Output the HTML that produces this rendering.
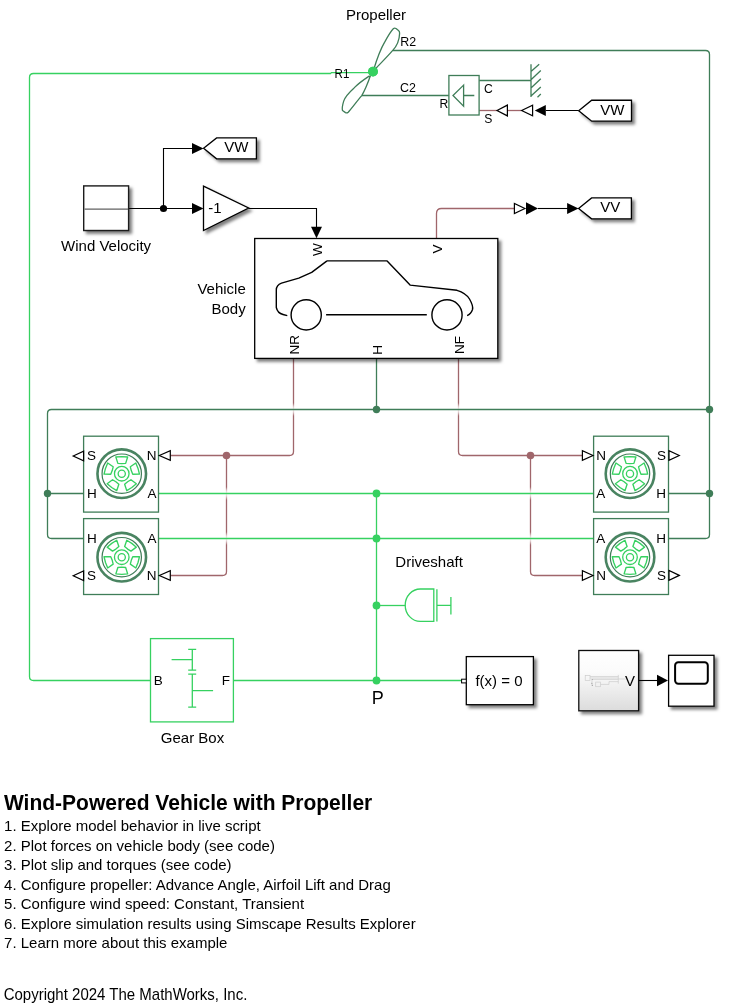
<!DOCTYPE html>
<html><head><meta charset="utf-8"><style>
html,body{margin:0;padding:0;background:#fff;width:730px;height:1006px;overflow:hidden;position:relative}
</style></head><body>
<svg width="730" height="1006" viewBox="0 0 730 1006"  style="position:absolute;left:0;top:0;will-change:transform;font-family:&quot;Liberation Sans&quot;,sans-serif">
<defs><filter id="sh" x="-20%" y="-20%" width="150%" height="150%"><feDropShadow dx="2.8" dy="2.8" stdDeviation="1.6" flood-color="#000" flood-opacity="0.5"/></filter></defs>
<path d="M293.5,358.4 L293.50,451.50 Q293.5,455.5 289.50,455.50 L168.5,455.5" fill="none" stroke="#a0666b" stroke-width="1.3"/>
<path d="M226.5,455.5 L226.50,571.50 Q226.5,575.5 222.50,575.50 L168.5,575.5" fill="none" stroke="#a0666b" stroke-width="1.3"/>
<path d="M458.5,358.4 L458.50,451.50 Q458.5,455.5 462.50,455.50 L582.3,455.5" fill="none" stroke="#a0666b" stroke-width="1.3"/>
<path d="M530.5,455.5 L530.50,571.50 Q530.5,575.5 534.50,575.50 L582.3,575.5" fill="none" stroke="#a0666b" stroke-width="1.3"/>
<path d="M436.5,238.5 L436.50,213.50 Q436.5,208.5 441.50,208.50 L514.4,208.5" fill="none" stroke="#a0666b" stroke-width="1.3"/>
<path d="M479.1,110.5 L497,110.5" fill="none" stroke="#a0666b" stroke-width="1.3" />
<path d="M507.4,110.5 L521.6,110.5" fill="none" stroke="#a0666b" stroke-width="1.3" />
<defs><linearGradient id="fd" x1="0" y1="0" x2="0" y2="1"><stop offset="0" stop-color="#fff" stop-opacity="0"/><stop offset="0.3" stop-color="#fff" stop-opacity="0.7"/><stop offset="0.5" stop-color="#fff" stop-opacity="0.9"/><stop offset="0.7" stop-color="#fff" stop-opacity="0.7"/><stop offset="1" stop-color="#fff" stop-opacity="0"/></linearGradient></defs>
<rect x="224.7" y="487.0" width="3.6" height="13" fill="url(#fd)"/>
<rect x="224.7" y="532.0" width="3.6" height="13" fill="url(#fd)"/>
<rect x="528.7" y="487.0" width="3.6" height="13" fill="url(#fd)"/>
<rect x="528.7" y="532.0" width="3.6" height="13" fill="url(#fd)"/>
<rect x="291.7" y="403.0" width="3.6" height="13" fill="url(#fd)"/>
<rect x="456.7" y="403.0" width="3.6" height="13" fill="url(#fd)"/>
<path d="M373,72.6 L331.5,72.6 L330.5,73.5 L33.5,73.5 Q29.5,73.5 29.5,77.5 L29.5,676.5 Q29.5,680.5 33.5,680.5 L150.5,680.5" fill="none" stroke="#36d160" stroke-width="1.3"/>
<path d="M233.4,680.5 L461.4,680.5" fill="none" stroke="#36d160" stroke-width="1.3" />
<path d="M376.5,493.5 L376.5,680.5" fill="none" stroke="#36d160" stroke-width="1.3" />
<path d="M158.5,493.5 L593.6,493.5" fill="none" stroke="#36d160" stroke-width="1.3" />
<path d="M158.5,538.5 L593.6,538.5" fill="none" stroke="#36d160" stroke-width="1.3" />
<path d="M376.5,605.5 L405.5,605.5" fill="none" stroke="#36d160" stroke-width="1.3" />
<path d="M393,50.5 L705.50,50.50 Q709.5,50.5 709.50,54.50 L709.50,534.50 Q709.5,538.5 705.50,538.50 L668.5,538.5" fill="none" stroke="#3f7d58" stroke-width="1.3"/>
<path d="M709.5,493.5 L668.5,493.5" fill="none" stroke="#3f7d58" stroke-width="1.3" />
<path d="M709.5,409.5 L51.50,409.50 Q47.5,409.5 47.50,413.50 L47.50,534.50 Q47.5,538.5 51.50,538.50 L83.6,538.5" fill="none" stroke="#3f7d58" stroke-width="1.3"/>
<path d="M47.5,493.5 L83.6,493.5" fill="none" stroke="#3f7d58" stroke-width="1.3" />
<path d="M376.5,358.4 L376.5,409.5" fill="none" stroke="#3f7d58" stroke-width="1.3" />
<path d="M361.8,95.5 L448.9,95.5" fill="none" stroke="#3f7d58" stroke-width="1.3" />
<path d="M479.1,80.5 L531,80.5" fill="none" stroke="#3f7d58" stroke-width="1.3" />
<path d="M128.6,208.5 L192,208.5" fill="none" stroke="#000" stroke-width="1.1" />
<path d="M163.5,208.5 L163.5,148.5 L193,148.5" fill="none" stroke="#000" stroke-width="1.1" />
<path d="M248.6,208.5 L316.5,208.5 L316.5,228" fill="none" stroke="#000" stroke-width="1.1" />
<path d="M545.8,110.5 L578.5,110.5" fill="none" stroke="#000" stroke-width="1.1" />
<path d="M538,208.5 L568,208.5" fill="none" stroke="#000" stroke-width="1.1" />
<path d="M638.6,680.5 L657.5,680.5" fill="none" stroke="#000" stroke-width="1.1" />
<polygon points="203.5,208.5 192.0,203.0 192.0,214.0" fill="#000"/>
<polygon points="203.5,148.5 192.0,143.0 192.0,154.0" fill="#000"/>
<polygon points="316.5,238.3 311.0,226.8 322.0,226.8" fill="#000"/>
<polygon points="534.8,110.5 545.8,105.0 545.8,116.0" fill="#000"/>
<polygon points="538,208.5 526,202.25 526,214.75" fill="#000"/>
<polygon points="578.6,208.5 567.1,203.0 567.1,214.0" fill="#000"/>
<polygon points="668,680.5 657,674.75 657,686.25" fill="#000"/>
<polygon points="497,110.5 507.4,105.1 507.4,115.9" fill="#fff" stroke="#000" stroke-width="1.2"/>
<polygon points="521.6,110.5 532.6,105.1 532.6,115.9" fill="#fff" stroke="#000" stroke-width="1.2"/>
<polygon points="524.9,208.5 514.4,203.4 514.4,213.6" fill="#fff" stroke="#000" stroke-width="1.2"/>
<circle cx="376.5" cy="493.5" r="3.9" fill="#36d160"/>
<circle cx="376.5" cy="538.5" r="3.9" fill="#36d160"/>
<circle cx="376.5" cy="605.5" r="3.9" fill="#36d160"/>
<circle cx="376.5" cy="680.5" r="3.9" fill="#36d160"/>
<circle cx="373" cy="71.6" r="4.9" fill="#36d160"/>
<circle cx="376.5" cy="409.5" r="3.7" fill="#3f7d58"/>
<circle cx="709.5" cy="409.5" r="3.7" fill="#3f7d58"/>
<circle cx="709.5" cy="493.5" r="3.7" fill="#3f7d58"/>
<circle cx="47.5" cy="493.5" r="3.7" fill="#3f7d58"/>
<circle cx="226.5" cy="455.5" r="3.8" fill="#a0666b"/>
<circle cx="530.5" cy="455.5" r="3.8" fill="#a0666b"/>
<circle cx="163.5" cy="208.5" r="3.6" fill="#000"/>
<rect x="83.7" y="185.9" width="44.9" height="44.6" fill="#fff" stroke="#1a1a1a" stroke-width="1.4" filter="url(#sh)"/>
<line x1="84.6" y1="209.1" x2="128.3" y2="209.1" stroke="#3a3a3a" stroke-width="1.0"/>
<text x="0" y="0" font-size="15" text-anchor="middle" fill="#000" transform="translate(106.1,250.9) scale(1,1.0)" >Wind Velocity</text>
<polygon points="203.5,186.1 248.6,208.0 203.5,230.5" fill="#fff" stroke="#000" stroke-width="1.3" stroke-linejoin="miter" filter="url(#sh)"/>
<text x="0" y="0" font-size="15" text-anchor="start" fill="#000" transform="translate(208.3,212.8) scale(1,1.0)" >-1</text>
<polygon points="203.6,148.35 216.6,137.9 256.4,137.9 256.4,158.79999999999998 216.6,158.79999999999998" fill="#fff" stroke="#000" stroke-width="1.3" filter="url(#sh)"/>
<text x="0" y="0" font-size="15" text-anchor="start" fill="#000" transform="translate(224.2,152.25) scale(1,1.0)" >VW</text>
<polygon points="578.7,110.7 591.7,100.25 631.5,100.25 631.5,121.15 591.7,121.15" fill="#fff" stroke="#000" stroke-width="1.3" filter="url(#sh)"/>
<text x="0" y="0" font-size="15" text-anchor="start" fill="#000" transform="translate(600.2,115.2) scale(1,1.0)" >VW</text>
<polygon points="578.6,208.4 591.6,197.95000000000002 631.4,197.95000000000002 631.4,218.85 591.6,218.85" fill="#fff" stroke="#000" stroke-width="1.3" filter="url(#sh)"/>
<text x="0" y="0" font-size="15" text-anchor="start" fill="#000" transform="translate(600.2,212.3) scale(1,1.0)" >VV</text>
<rect x="254.7" y="238.5" width="243.1" height="119.9" fill="#fff" stroke="#000" stroke-width="1.3" filter="url(#sh)"/>
<text x="0" y="0" font-size="15" text-anchor="end" fill="#000" transform="translate(245.8,293.5) scale(1,1.0)" >Vehicle</text>
<text x="0" y="0" font-size="15" text-anchor="end" fill="#000" transform="translate(245.7,313.6) scale(1,1.0)" >Body</text>
<text x="0" y="0" font-size="13.5" text-anchor="middle" transform="translate(321.9,249.5) rotate(-90)">W</text>
<text x="0" y="0" font-size="13.5" text-anchor="middle" transform="translate(441.6,249.0) rotate(-90)">V</text>
<text x="0" y="0" font-size="13.5" text-anchor="middle" transform="translate(298.8,344.8) rotate(-90)">NR</text>
<text x="0" y="0" font-size="13.5" text-anchor="middle" transform="translate(381.6,349.8) rotate(-90)">H</text>
<text x="0" y="0" font-size="13.5" text-anchor="middle" transform="translate(463.7,345.0) rotate(-90)">NF</text>
<path d="M327,260.9 L387.1,260.9 L410.1,285.1 L457,290.3 Q466,293 469.5,299 Q473.5,306 472.5,309.5 Q471,314 467.1,315.6 M327,260.9 L311.7,272.4 L298.8,278.2 L281.5,283.1 Q276.3,285 276.3,290 L276.3,307.5 Q277.5,313 283,314.5 L287.3,315.6 M326.1,314.7 L426.8,314.7" fill="none" stroke="#000" stroke-width="1.4" stroke-linejoin="round"/>
<circle cx="306.2" cy="314.9" r="15.1" fill="none" stroke="#000" stroke-width="1.4"/>
<circle cx="447.0" cy="314.9" r="15.1" fill="none" stroke="#000" stroke-width="1.4"/>
<text x="0" y="0" font-size="15" text-anchor="middle" fill="#000" transform="translate(376.0,19.9) scale(1,1.0)" >Propeller</text>
<path d="M373.8,69.3 C376,62 380,50 384.8,41.9 C388,36 391,31 393.5,28.5 Q394.5,27.8 396,28.5 L398.5,30.4 Q399.8,31.5 399.6,33.5 C399.4,40 397,46 392.5,50.7 C388,56 382,62 376,68.2" fill="none" stroke="#3f7d58" stroke-width="1.3" stroke-linejoin="round"/>
<path d="M369.5,75.9 C364,79.5 358,84 354.1,87.9 C349,92.5 345,97 343.7,101.1 C342.5,105 341.8,108 342.5,110.5 L345.5,112.6 Q347,113.3 348.2,112.2 C352,108 357,101 361.8,95.6 C365,90 367.5,84 370.5,75.5" fill="none" stroke="#3f7d58" stroke-width="1.3" stroke-linejoin="round"/>
<circle cx="373" cy="71.6" r="4.9" fill="#36d160"/>
<text x="0" y="0" font-size="13.5" text-anchor="start" fill="#000" transform="translate(334.5,77.6) scale(0.86,1.0)" >R1</text>
<text x="0" y="0" font-size="13.5" text-anchor="start" fill="#000" transform="translate(400.3,45.6) scale(0.92,1.0)" >R2</text>
<text x="0" y="0" font-size="13.5" text-anchor="start" fill="#000" transform="translate(400.0,91.5) scale(0.92,1.0)" >C2</text>
<rect x="448.9" y="75.5" width="30.2" height="39.5" fill="#fff" stroke="#3f7d58" stroke-width="1.3"/>
<path d="M463.6,85.1 L453,95.5 L463.6,106.2 Z M463.6,95.5 L474.3,95.5" fill="none" stroke="#3f7d58" stroke-width="1.3"/>
<text x="0" y="0" font-size="13.5" text-anchor="start" fill="#000" transform="translate(439.5,107.7) scale(0.9,1.0)" >R</text>
<text x="0" y="0" font-size="13.5" text-anchor="start" fill="#000" transform="translate(484.0,92.8) scale(0.9,1.0)" >C</text>
<text x="0" y="0" font-size="13.5" text-anchor="start" fill="#000" transform="translate(484.2,122.5) scale(0.9,1.0)" >S</text>
<path d="M531,64.3 L531,96.9 M531,71.4 L539.2,64.3 M531,79.7 L540.8,70.6 M531,87.9 L540.8,78.8 M531,96.1 L540.8,87 M537.5,97.2 L540.8,94" fill="none" stroke="#3f7d58" stroke-width="1.3"/>
<rect x="83.6" y="436.2" width="74.9" height="75.9" fill="#fff" stroke="#3f7d58" stroke-width="1.3"/>
<circle cx="121.75" cy="473.7" r="24.3" fill="none" stroke="#3f7d58" stroke-width="2.6" stroke-opacity="0.95"/>
<circle cx="121.75" cy="473.7" r="19.7" fill="none" stroke="#3f7d58" stroke-width="1.2"/>
<circle cx="121.75" cy="473.7" r="7.3" fill="none" stroke="#36d160" stroke-width="1.3"/>
<circle cx="121.75" cy="473.7" r="3.6" fill="none" stroke="#36d160" stroke-width="1.3"/>
<path d="M117.85,463.40 L115.85,457.00 L121.75,456.60 L127.65,457.00 L125.65,463.40 L121.75,463.70 Z" fill="none" stroke="#36d160" stroke-width="1.35" stroke-linejoin="round"/>
<path d="M130.34,466.81 L135.81,462.93 L138.01,468.42 L139.46,474.15 L132.75,474.23 L131.26,470.61 Z" fill="none" stroke="#36d160" stroke-width="1.35" stroke-linejoin="round"/>
<path d="M130.96,479.74 L136.34,483.74 L131.80,487.53 L126.79,490.68 L124.65,484.33 L127.63,481.79 Z" fill="none" stroke="#36d160" stroke-width="1.35" stroke-linejoin="round"/>
<path d="M118.85,484.33 L116.71,490.68 L111.70,487.53 L107.16,483.74 L112.54,479.74 L115.87,481.79 Z" fill="none" stroke="#36d160" stroke-width="1.35" stroke-linejoin="round"/>
<path d="M110.75,474.23 L104.04,474.15 L105.49,468.42 L107.69,462.93 L113.16,466.81 L112.24,470.61 Z" fill="none" stroke="#36d160" stroke-width="1.35" stroke-linejoin="round"/>
<rect x="83.6" y="518.6" width="74.9" height="75.9" fill="#fff" stroke="#3f7d58" stroke-width="1.3"/>
<circle cx="121.75" cy="557.2" r="24.3" fill="none" stroke="#3f7d58" stroke-width="2.6" stroke-opacity="0.95"/>
<circle cx="121.75" cy="557.2" r="19.7" fill="none" stroke="#3f7d58" stroke-width="1.2"/>
<circle cx="121.75" cy="557.2" r="7.3" fill="none" stroke="#36d160" stroke-width="1.3"/>
<circle cx="121.75" cy="557.2" r="3.6" fill="none" stroke="#36d160" stroke-width="1.3"/>
<path d="M125.65,567.50 L127.65,573.90 L121.75,574.30 L115.85,573.90 L117.85,567.50 L121.75,567.20 Z" fill="none" stroke="#36d160" stroke-width="1.35" stroke-linejoin="round"/>
<path d="M132.75,556.67 L139.46,556.75 L138.01,562.48 L135.81,567.97 L130.34,564.09 L131.26,560.29 Z" fill="none" stroke="#36d160" stroke-width="1.35" stroke-linejoin="round"/>
<path d="M124.65,546.57 L126.79,540.22 L131.80,543.37 L136.34,547.16 L130.96,551.16 L127.63,549.11 Z" fill="none" stroke="#36d160" stroke-width="1.35" stroke-linejoin="round"/>
<path d="M112.54,551.16 L107.16,547.16 L111.70,543.37 L116.71,540.22 L118.85,546.57 L115.87,549.11 Z" fill="none" stroke="#36d160" stroke-width="1.35" stroke-linejoin="round"/>
<path d="M113.16,564.09 L107.69,567.97 L105.49,562.48 L104.04,556.75 L110.75,556.67 L112.24,560.29 Z" fill="none" stroke="#36d160" stroke-width="1.35" stroke-linejoin="round"/>
<rect x="593.6" y="436.2" width="74.9" height="75.9" fill="#fff" stroke="#3f7d58" stroke-width="1.3"/>
<circle cx="630.0" cy="473.7" r="24.3" fill="none" stroke="#3f7d58" stroke-width="2.6" stroke-opacity="0.95"/>
<circle cx="630.0" cy="473.7" r="19.7" fill="none" stroke="#3f7d58" stroke-width="1.2"/>
<circle cx="630.0" cy="473.7" r="7.3" fill="none" stroke="#36d160" stroke-width="1.3"/>
<circle cx="630.0" cy="473.7" r="3.6" fill="none" stroke="#36d160" stroke-width="1.3"/>
<path d="M626.10,463.40 L624.10,457.00 L630.00,456.60 L635.90,457.00 L633.90,463.40 L630.00,463.70 Z" fill="none" stroke="#36d160" stroke-width="1.35" stroke-linejoin="round"/>
<path d="M638.59,466.81 L644.06,462.93 L646.26,468.42 L647.71,474.15 L641.00,474.23 L639.51,470.61 Z" fill="none" stroke="#36d160" stroke-width="1.35" stroke-linejoin="round"/>
<path d="M639.21,479.74 L644.59,483.74 L640.05,487.53 L635.04,490.68 L632.90,484.33 L635.88,481.79 Z" fill="none" stroke="#36d160" stroke-width="1.35" stroke-linejoin="round"/>
<path d="M627.10,484.33 L624.96,490.68 L619.95,487.53 L615.41,483.74 L620.79,479.74 L624.12,481.79 Z" fill="none" stroke="#36d160" stroke-width="1.35" stroke-linejoin="round"/>
<path d="M619.00,474.23 L612.29,474.15 L613.74,468.42 L615.94,462.93 L621.41,466.81 L620.49,470.61 Z" fill="none" stroke="#36d160" stroke-width="1.35" stroke-linejoin="round"/>
<rect x="593.6" y="518.6" width="74.9" height="75.9" fill="#fff" stroke="#3f7d58" stroke-width="1.3"/>
<circle cx="630.0" cy="557.2" r="24.3" fill="none" stroke="#3f7d58" stroke-width="2.6" stroke-opacity="0.95"/>
<circle cx="630.0" cy="557.2" r="19.7" fill="none" stroke="#3f7d58" stroke-width="1.2"/>
<circle cx="630.0" cy="557.2" r="7.3" fill="none" stroke="#36d160" stroke-width="1.3"/>
<circle cx="630.0" cy="557.2" r="3.6" fill="none" stroke="#36d160" stroke-width="1.3"/>
<path d="M633.90,567.50 L635.90,573.90 L630.00,574.30 L624.10,573.90 L626.10,567.50 L630.00,567.20 Z" fill="none" stroke="#36d160" stroke-width="1.35" stroke-linejoin="round"/>
<path d="M641.00,556.67 L647.71,556.75 L646.26,562.48 L644.06,567.97 L638.59,564.09 L639.51,560.29 Z" fill="none" stroke="#36d160" stroke-width="1.35" stroke-linejoin="round"/>
<path d="M632.90,546.57 L635.04,540.22 L640.05,543.37 L644.59,547.16 L639.21,551.16 L635.88,549.11 Z" fill="none" stroke="#36d160" stroke-width="1.35" stroke-linejoin="round"/>
<path d="M620.79,551.16 L615.41,547.16 L619.95,543.37 L624.96,540.22 L627.10,546.57 L624.12,549.11 Z" fill="none" stroke="#36d160" stroke-width="1.35" stroke-linejoin="round"/>
<path d="M621.41,564.09 L615.94,567.97 L613.74,562.48 L612.29,556.75 L619.00,556.67 L620.49,560.29 Z" fill="none" stroke="#36d160" stroke-width="1.35" stroke-linejoin="round"/>
<text x="0" y="0" font-size="13.5" text-anchor="start" fill="#000" transform="translate(87,460.3) scale(1,1.0)" >S</text>
<text x="0" y="0" font-size="13.5" text-anchor="start" fill="#000" transform="translate(87,498) scale(1,1.0)" >H</text>
<text x="0" y="0" font-size="13.5" text-anchor="start" fill="#000" transform="translate(87,543) scale(1,1.0)" >H</text>
<text x="0" y="0" font-size="13.5" text-anchor="start" fill="#000" transform="translate(87,580.3) scale(1,1.0)" >S</text>
<text x="0" y="0" font-size="13.5" text-anchor="end" fill="#000" transform="translate(156.6,460.3) scale(1,1.0)" >N</text>
<text x="0" y="0" font-size="13.5" text-anchor="end" fill="#000" transform="translate(156.6,498) scale(1,1.0)" >A</text>
<text x="0" y="0" font-size="13.5" text-anchor="end" fill="#000" transform="translate(156.6,543) scale(1,1.0)" >A</text>
<text x="0" y="0" font-size="13.5" text-anchor="end" fill="#000" transform="translate(156.6,580.3) scale(1,1.0)" >N</text>
<text x="0" y="0" font-size="13.5" text-anchor="start" fill="#000" transform="translate(596.3,460.3) scale(1,1.0)" >N</text>
<text x="0" y="0" font-size="13.5" text-anchor="start" fill="#000" transform="translate(596.3,498) scale(1,1.0)" >A</text>
<text x="0" y="0" font-size="13.5" text-anchor="start" fill="#000" transform="translate(596.3,543) scale(1,1.0)" >A</text>
<text x="0" y="0" font-size="13.5" text-anchor="start" fill="#000" transform="translate(596.3,580.3) scale(1,1.0)" >N</text>
<text x="0" y="0" font-size="13.5" text-anchor="end" fill="#000" transform="translate(666,460.3) scale(1,1.0)" >S</text>
<text x="0" y="0" font-size="13.5" text-anchor="end" fill="#000" transform="translate(666,498) scale(1,1.0)" >H</text>
<text x="0" y="0" font-size="13.5" text-anchor="end" fill="#000" transform="translate(666,543) scale(1,1.0)" >H</text>
<text x="0" y="0" font-size="13.5" text-anchor="end" fill="#000" transform="translate(666,580.3) scale(1,1.0)" >S</text>
<polygon points="73.2,456 83.60000000000001,451.2 83.60000000000001,460.8" fill="#fff" stroke="#000" stroke-width="1.2"/>
<polygon points="73.2,575.8 83.60000000000001,571.0 83.60000000000001,580.5999999999999" fill="#fff" stroke="#000" stroke-width="1.2"/>
<polygon points="159.3,455.5 170.3,450.7 170.3,460.3" fill="#fff" stroke="#000" stroke-width="1.2"/>
<polygon points="159.3,575.5 170.3,570.7 170.3,580.3" fill="#fff" stroke="#000" stroke-width="1.2"/>
<polygon points="593,455.5 582.4,450.7 582.4,460.3" fill="#fff" stroke="#000" stroke-width="1.2"/>
<polygon points="593,575.5 582.4,570.7 582.4,580.3" fill="#fff" stroke="#000" stroke-width="1.2"/>
<polygon points="679.3,455.5 669.0,450.6 669.0,460.4" fill="#fff" stroke="#000" stroke-width="1.2"/>
<polygon points="679.3,575.4 669.0,570.5 669.0,580.3" fill="#fff" stroke="#000" stroke-width="1.2"/>
<text x="0" y="0" font-size="15" text-anchor="middle" fill="#000" transform="translate(429.1,566.9) scale(1,1.0)" >Driveshaft</text>
<path d="M433.8,589 L420.3,589 A15.1,16.2 0 0 0 420.3,621.4 L433.8,621.4 Z M436.9,589.3 L436.9,621.4 M436.9,605.3 L450.9,605.3 M450.9,596.9 L450.9,614.4" fill="none" stroke="#36d160" stroke-width="1.3"/>
<text x="0" y="0" font-size="18" text-anchor="middle" fill="#000" transform="translate(377.8,703.7) scale(1,1.0)" >P</text>
<rect x="150.5" y="638.6" width="82.9" height="83.3" fill="#fff" stroke="#36d160" stroke-width="1.3"/>
<path d="M192.3,649.3 L192.3,670.2 M188.2,649.3 L196.2,649.3 M188.2,670.2 L196.2,670.2 M171.6,659.7 L192.3,659.7 M192.3,674.2 L192.3,707.2 M188.2,674.2 L196.2,674.2 M188.2,707.2 L196.2,707.2 M192.3,690.7 L213.1,690.7" fill="none" stroke="#36d160" stroke-width="1.3"/>
<text x="0" y="0" font-size="13.5" text-anchor="start" fill="#000" transform="translate(153.8,685.2) scale(1,1.0)" >B</text>
<text x="0" y="0" font-size="13.5" text-anchor="end" fill="#000" transform="translate(230,685.2) scale(1,1.0)" >F</text>
<text x="0" y="0" font-size="15" text-anchor="middle" fill="#000" transform="translate(192.5,742.5) scale(1,1.0)" >Gear Box</text>
<rect x="466.3" y="656.6" width="67.1" height="48.1" fill="#fff" stroke="#000" stroke-width="1.3" filter="url(#sh)"/>
<rect x="461.6" y="679.2" width="4.7" height="3.7" fill="#fff" stroke="#000" stroke-width="1"/>
<text x="0" y="0" font-size="15" text-anchor="middle" fill="#000" transform="translate(499.0,686.0) scale(1,1.0)" >f(x) = 0</text>
<defs><linearGradient id="gr" x1="0" y1="0" x2="0" y2="1"><stop offset="0" stop-color="#fff"/><stop offset="0.35" stop-color="#fbfbfb"/><stop offset="1" stop-color="#dcdcdc"/></linearGradient></defs>
<rect x="578.8" y="650.5" width="59.8" height="60.3" fill="url(#gr)" stroke="#111" stroke-width="1.3" filter="url(#sh)"/>
<g stroke="#cdcdcd" stroke-width="0.7" fill="none"><rect x="585.2" y="675.4" width="4.8" height="5.2"/><path d="M590,676.5 L618.3,676.5 M590,678 L618.3,678 M592,679.4 L618.3,679.4 M618.3,674.9 L618.3,683.7 M618.3,679 L625.5,679 M600.6,684.4 L609,684.4 L609,681.6 L618.3,681.6 M592,680 L592,686"/><rect x="595.7" y="682.1" width="4.9" height="4.6"/></g><g fill="#888"><circle cx="592.1" cy="679.4" r="0.5"/><circle cx="591.9" cy="683.2" r="0.5"/><circle cx="592.4" cy="685.2" r="0.5"/></g>
<text x="0" y="0" font-size="15" text-anchor="middle" fill="#000" transform="translate(630.0,686.0) scale(1,1.0)" >V</text>
<rect x="668.6" y="655.3" width="45.4" height="50.9" fill="#fff" stroke="#000" stroke-width="1.3" filter="url(#sh)"/>
<rect x="675.1" y="662.2" width="32.7" height="21.6" rx="3.2" fill="#fff" stroke="#000" stroke-width="2"/>
<text x="0" y="0" font-size="21" font-weight="bold" transform="translate(4.0,809.8) scale(1,1.05)">Wind-Powered Vehicle with Propeller</text>
<text x="0" y="0" font-size="15" transform="translate(4.1,831.40) scale(1,0.97)">1. Explore model behavior in live script</text>
<text x="0" y="0" font-size="15" transform="translate(4.1,850.87) scale(1,0.97)">2. Plot forces on vehicle body (see code)</text>
<text x="0" y="0" font-size="15" transform="translate(4.1,870.34) scale(1,0.97)">3. Plot slip and torques (see code)</text>
<text x="0" y="0" font-size="15" transform="translate(4.1,889.81) scale(1,0.97)">4. Configure propeller: Advance Angle, Airfoil Lift and Drag</text>
<text x="0" y="0" font-size="15" transform="translate(4.1,909.28) scale(1,0.97)">5. Configure wind speed: Constant, Transient</text>
<text x="0" y="0" font-size="15" transform="translate(4.1,928.75) scale(1,0.97)">6. Explore simulation results using Simscape Results Explorer</text>
<text x="0" y="0" font-size="15" transform="translate(4.1,948.22) scale(1,0.97)">7. Learn more about this example</text>
<text x="0" y="0" font-size="15" transform="translate(3.7,999.6) scale(1,1.13)">Copyright 2024 The MathWorks, Inc.</text>
</svg>
</body></html>
